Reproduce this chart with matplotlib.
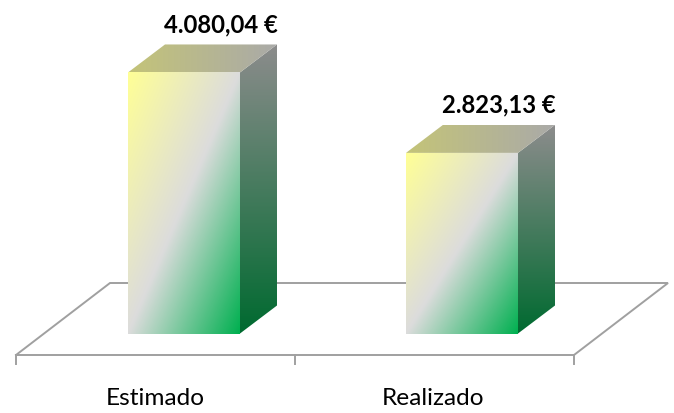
import numpy as np
import matplotlib
matplotlib.use('Agg')
import matplotlib.pyplot as plt
from matplotlib.colors import LinearSegmentedColormap
from matplotlib.patches import Polygon

categories = ['Estimado', 'Realizado']
values = [4080.04, 2823.13]
value_labels = ['4.080,04 €', '2.823,13 €']

plt.rcParams['font.family'] = ['Lato', 'DejaVu Sans']

# one x unit = 278 px, one y px = 15.63 euros
PX_X = 1 / 278
PX_Y = 15.63
bar_w = 112 * PX_X
depth_x = 37 * PX_X
depth_y = 28 * PX_Y

front_cmap = LinearSegmentedColormap.from_list('front', ['#ffff96', '#dcdcdc', '#00b050'])
side_cmap = LinearSegmentedColormap.from_list('side', ['#8c8c8c', '#006a30'])
top_cmap = LinearSegmentedColormap.from_list('top', ['#c4c478', '#aaaaa8'])


def grad_face(ax, verts, grad, cmap):
    # gradient image clipped to the face outline
    xs = [v[0] for v in verts]
    ys = [v[1] for v in verts]
    poly = Polygon(verts, closed=True, facecolor='none', edgecolor='none')
    ax.add_patch(poly)
    im = ax.imshow(grad, extent=(min(xs), max(xs), min(ys), max(ys)), origin='upper',
                   cmap=cmap, vmin=0, vmax=1, aspect='auto', interpolation='bilinear', zorder=3)
    im.set_clip_path(poly)


fig = plt.figure(figsize=(6.74, 4.14), dpi=100)
ax = fig.add_axes([0, 0, 1, 1])

# floor
floor_color = '#a0a0a0'
fx0, fx1 = 16 * PX_X - 184 * PX_X, 574 * PX_X - 184 * PX_X
fmid = 295 * PX_X - 184 * PX_X
fy0 = -21.5 * PX_Y
fy1 = 50.5 * PX_Y
fdx = 94 * PX_X
ax.plot([fx0, fx1, fx1 + fdx, fx0 + fdx, fx0], [fy0, fy0, fy1, fy1, fy0],
        color=floor_color, lw=1.4, zorder=1, solid_joinstyle='miter')
for tx in [fx0, fmid, fx1]:
    ax.plot([tx, tx], [fy0, fy0 - 9 * PX_Y], color=floor_color, lw=1.4, zorder=1)

n = 200
u, v = np.meshgrid(np.linspace(0, 1, n), np.linspace(0, 1, n))
for i, val in enumerate(values):
    x0 = i - bar_w / 2
    x1 = i + bar_w / 2
    grad_face(ax, [(x0, 0), (x1, 0), (x1, val), (x0, val)], (u + v) / 2, front_cmap)
    grad_face(ax, [(x1, 0), (x1 + depth_x, depth_y), (x1 + depth_x, val + depth_y), (x1, val)],
              v, side_cmap)
    grad_face(ax, [(x0, val), (x1, val), (x1 + depth_x, val + depth_y), (x0 + depth_x, val + depth_y)],
              u, top_cmap)
    ax.text(i + depth_x, val + 49 * PX_Y, value_labels[i], ha='center', va='center',
            fontsize=17.2, fontweight='bold', color='#000000', zorder=4)

# category labels sit under the floor, in the middle of each tick span
for i, cat in enumerate(categories):
    ax.text(i - 29 * PX_X, -64.5 * PX_Y, cat, ha='center', va='center',
            fontsize=17.6, color='#000000')

ax.set_xlim(-184 * PX_X, 490 * PX_X)
ax.set_ylim(-79.5 * PX_Y, 334.5 * PX_Y)
ax.axis('off')
fig.savefig('out.png', dpi=100)
